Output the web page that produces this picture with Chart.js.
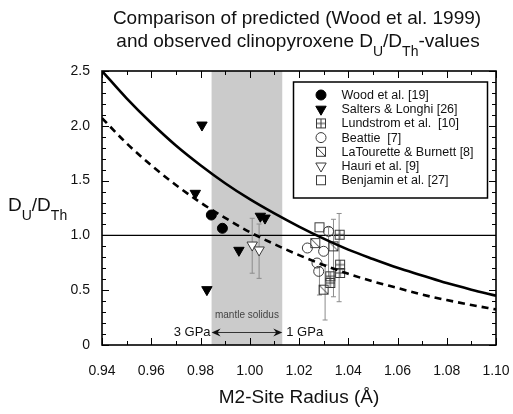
<!DOCTYPE html>
<html>
<head>
<meta charset="utf-8">
<script src="https://cdn.jsdelivr.net/npm/chart.js@4.4.1/dist/chart.umd.min.js"></script>
<style>
  html, body { margin: 0; padding: 0; background: #fff; }
  #wrap { width: 513px; height: 414px; position: relative; }
</style>
</head>
<body>
<div id="wrap"><canvas id="chart"></canvas></div>
<script>
// predicted curves
const radiusGrid = [0.94, 0.95, 0.96, 0.97, 0.98, 0.99, 1.00, 1.01, 1.02, 1.03, 1.04, 1.05, 1.06, 1.07, 1.08, 1.09, 1.10];
const predSolid  = [2.50, 2.25, 2.025, 1.82, 1.64, 1.476, 1.33, 1.20, 1.08, 0.97, 0.87, 0.785, 0.705, 0.635, 0.565, 0.505, 0.45];
const predDashed = [2.07, 1.84, 1.64, 1.46, 1.30, 1.16, 1.03, 0.92, 0.82, 0.73, 0.65, 0.58, 0.52, 0.46, 0.41, 0.365, 0.325];

// observed values
const woodX = [0.9844, 0.9889];
const woodY = [1.186, 1.065];
const saltersX = [0.9806, 0.9779, 0.9826, 0.9956, 1.0043, 1.0062];
const saltersY = [2.007, 1.384, 0.505, 0.864, 1.175, 1.158];
const lundstromX = [1.0365, 1.0367, 1.0367, 1.0327, 1.0327];
const lundstromY = [1.006, 0.733, 0.657, 0.627, 0.566];
const beattieX = [1.0320, 1.0234, 1.0300, 1.0273, 1.0280];
const beattieY = [1.037, 0.885, 0.855, 0.748, 0.672];
const latouretteX = [1.0266, 1.0340, 1.0300];
const latouretteY = [0.930, 0.900, 0.505];
const hauriX = [1.0010, 1.0038];
const hauriY = [0.912, 0.867];
const benjaminX = [1.0283];
const benjaminY = [1.074];

// error bars
const errX  = [1.0010, 1.0038, 1.0283, 1.0306, 1.0320, 1.0340, 1.0363];
const errLo = [0.655, 0.608, 0.456, 0.228, 0.620, 0.440, 0.395];
const errHi = [1.156, 1.104, 0.710, 0.730, 1.074, 1.147, 1.200];

const xTicks = [0.94, 0.96, 0.98, 1.00, 1.02, 1.04, 1.06, 1.08, 1.10];
const yTicks = [0, 0.5, 1.0, 1.5, 2.0, 2.5];
const solidusBand = [0.9845, 1.0132];

const FONT = "'Liberation Sans', Arial, Helvetica, sans-serif";
const SYM = '#3a3a3a';

function pts(xs, ys) {
    return xs.map((x, i) => ({ x: x, y: ys[i] }));
}

function makeSymbol(kind) {
    const c = document.createElement('canvas');
    c.width = 12; c.height = 12;
    const g = c.getContext('2d');
    g.strokeStyle = SYM;
    g.lineWidth = 1;
    g.strokeRect(1.5, 1.5, 9, 9);
    g.beginPath();
    if (kind === 'plus') {
        g.moveTo(6, 1.5); g.lineTo(6, 10.5);
        g.moveTo(1.5, 6); g.lineTo(10.5, 6);
    } else if (kind === 'diag') {
        g.moveTo(1.5, 1.5); g.lineTo(10.5, 10.5);
    }
    g.stroke();
    return c;
}
const squarePlus = makeSymbol('plus');
const squareDiag = makeSymbol('diag');
const squareOpen = makeSymbol('open');

const errData = [];
errX.forEach((x, i) => {
    errData.push({ x: x, y: errLo[i] }, { x: x, y: errHi[i] }, { x: x, y: null });
});

const series = [
    { label: 'Wood et al. [19]', data: pts(woodX, woodY), pointStyle: 'circle', pointRadius: 5,
      backgroundColor: '#000', borderColor: '#000', pointBorderWidth: 1 },
    { label: 'Salters & Longhi [26]', data: pts(saltersX, saltersY), pointStyle: 'triangle', rotation: 180, pointRadius: 6,
      backgroundColor: '#000', borderColor: '#000', pointBorderWidth: 1 },
    { label: 'Lundstrom et al.  [10]', data: pts(lundstromX, lundstromY), pointStyle: squarePlus, pointRadius: 6,
      backgroundColor: 'rgba(0,0,0,0)', borderColor: SYM },
    { label: 'Beattie  [7]', data: pts(beattieX, beattieY), pointStyle: 'circle', pointRadius: 5,
      backgroundColor: 'rgba(255,255,255,0)', borderColor: SYM, pointBorderWidth: 1 },
    { label: 'LaTourette & Burnett [8]', data: pts(latouretteX, latouretteY), pointStyle: squareDiag, pointRadius: 6,
      backgroundColor: 'rgba(0,0,0,0)', borderColor: SYM },
    { label: 'Hauri et al. [9]', data: pts(hauriX, hauriY), pointStyle: 'triangle', rotation: 180, pointRadius: 6,
      backgroundColor: '#fff', borderColor: SYM, pointBorderWidth: 1 },
    { label: 'Benjamin et al. [27]', data: pts(benjaminX, benjaminY), pointStyle: squareOpen, pointRadius: 6,
      backgroundColor: 'rgba(0,0,0,0)', borderColor: SYM }
];

const datasets = [
    { type: 'line', data: pts(radiusGrid, predSolid), borderColor: '#000', borderWidth: 2.6,
      pointRadius: 0, cubicInterpolationMode: 'monotone', order: 0 },
    { type: 'line', data: pts(radiusGrid, predDashed), borderColor: '#000', borderWidth: 2.6, borderDash: [7, 5],
      pointRadius: 0, cubicInterpolationMode: 'monotone', order: 0 }
];
series.forEach(s => datasets.push(Object.assign({ type: 'scatter', order: 1 }, s)));
datasets.push({ type: 'line', data: errData, borderColor: '#8c8c8c', borderWidth: 1, spanGaps: false,
    pointStyle: 'line', pointRadius: 2.5, pointBorderColor: '#8c8c8c', pointBorderWidth: 1, order: 2 });
datasets.push({ type: 'line', data: [{ x: 0.94, y: 1 }, { x: 1.10, y: 1 }], borderColor: '#000', borderWidth: 1.2,
    pointRadius: 0, order: 3 });

// draws a string with subscript parts
function drawParts(ctx, parts, x, y, size, subSize, align) {
    let total = 0;
    parts.forEach(p => {
        ctx.font = (p.sub ? subSize : size) + 'px ' + FONT;
        p.w = ctx.measureText(p.t).width;
        total += p.w;
    });
    let cx = align === 'center' ? x - total / 2 : x;
    ctx.textAlign = 'left';
    ctx.textBaseline = 'alphabetic';
    parts.forEach(p => {
        ctx.font = (p.sub ? subSize : size) + 'px ' + FONT;
        ctx.fillText(p.t, cx, p.sub ? y + size * 0.47 : y);
        cx += p.w;
    });
}

const decorPlugin = {
    id: 'decor',
    beforeDatasetsDraw(chart) {
        const { ctx, chartArea: a, scales: { x } } = chart;
        ctx.save();
        ctx.fillStyle = '#cbcbcb';
        const x0 = x.getPixelForValue(solidusBand[0]);
        const x1 = x.getPixelForValue(solidusBand[1]);
        ctx.fillRect(x0, a.top, x1 - x0, a.bottom - a.top);
        ctx.restore();
    },
    afterDatasetsDraw(chart) {
        const { ctx, chartArea: a, scales: { x, y } } = chart;
        ctx.save();
        // inward tick marks on all four sides
        ctx.strokeStyle = '#000';
        ctx.lineWidth = 1;
        ctx.beginPath();
        for (let i = 0; i <= 16; i++) {
            const v = 0.94 + i * 0.01;
            const px = Math.round(x.getPixelForValue(v)) + 0.5;
            const len = i % 2 === 0 ? 7 : 4;
            ctx.moveTo(px, a.bottom); ctx.lineTo(px, a.bottom - len);
            ctx.moveTo(px, a.top); ctx.lineTo(px, a.top + len);
        }
        for (let i = 0; i <= 25; i++) {
            const py = Math.round(y.getPixelForValue(i * 0.1)) + 0.5;
            const len = i % 5 === 0 ? 7 : 4;
            ctx.moveTo(a.left, py); ctx.lineTo(a.left + len, py);
            ctx.moveTo(a.right, py); ctx.lineTo(a.right - len, py);
        }
        ctx.stroke();
        // frame
        ctx.lineWidth = 1.6;
        ctx.strokeRect(a.left, a.top, a.right - a.left, a.bottom - a.top);

        // mantle solidus annotation
        const bx0 = x.getPixelForValue(solidusBand[0]);
        const bx1 = x.getPixelForValue(solidusBand[1]);
        ctx.fillStyle = '#444';
        ctx.font = '10px ' + FONT;
        ctx.textAlign = 'center';
        ctx.textBaseline = 'middle';
        ctx.fillText('mantle solidus', (bx0 + bx1) / 2, y.getPixelForValue(0.27));
        const ay = Math.round(y.getPixelForValue(0.116)) + 0.5;
        ctx.strokeStyle = '#333';
        ctx.lineWidth = 1;
        ctx.beginPath();
        ctx.moveTo(bx0 + 3, ay); ctx.lineTo(bx1 - 3, ay);
        ctx.stroke();
        ctx.fillStyle = '#111';
        [[bx0, 1], [bx1, -1]].forEach(([tx, d]) => {
            ctx.beginPath();
            ctx.moveTo(tx, ay);
            ctx.lineTo(tx + d * 9, ay - 4);
            ctx.lineTo(tx + d * 6, ay);
            ctx.lineTo(tx + d * 9, ay + 4);
            ctx.closePath();
            ctx.fill();
        });
        ctx.font = '13px ' + FONT;
        ctx.textAlign = 'right';
        ctx.fillText('3 GPa', bx0 - 1, ay);
        ctx.textAlign = 'left';
        ctx.fillText('1 GPa', bx1 + 4, ay);
        ctx.restore();
    },
    afterDraw(chart) {
        const ctx = chart.ctx;
        ctx.save();
        ctx.fillStyle = '#111';
        // title
        ctx.font = '19px ' + FONT;
        ctx.textAlign = 'center';
        ctx.textBaseline = 'alphabetic';
        ctx.fillText('Comparison of predicted (Wood et al. 1999)', 297, 24);
        drawParts(ctx, [
            { t: 'and observed clinopyroxene D' }, { t: 'U', sub: true },
            { t: '/D' }, { t: 'Th', sub: true }, { t: '-values' }
        ], 298, 47, 19, 14, 'center');
        // y axis title
        drawParts(ctx, [
            { t: 'D' }, { t: 'U', sub: true }, { t: '/D' }, { t: 'Th', sub: true }
        ], 8, 211, 19, 14, 'left');

        // legend box
        const lx = 293.5, ly = 82, lw = 194, lh = 116;
        ctx.fillStyle = '#fff';
        ctx.fillRect(lx, ly, lw, lh);
        ctx.strokeStyle = '#000';
        ctx.lineWidth = 1.5;
        ctx.strokeRect(lx, ly, lw, lh);
        series.forEach((s, i) => {
            const cy = 95 + i * 14.2;
            ctx.fillStyle = s.backgroundColor;
            ctx.strokeStyle = s.borderColor;
            ctx.lineWidth = 1;
            Chart.helpers.drawPoint(ctx, {
                pointStyle: s.pointStyle, rotation: s.rotation || 0,
                radius: s.pointRadius, borderWidth: 1
            }, 321, cy);
            ctx.fillStyle = '#111';
            ctx.font = '12.5px ' + FONT;
            ctx.textAlign = 'left';
            ctx.textBaseline = 'middle';
            ctx.fillText(s.label, 341.5, cy + 0.5);
        });
        ctx.restore();
    }
};

new Chart(document.getElementById('chart'), {
    type: 'scatter',
    data: { datasets: datasets },
    options: {
        responsive: true,
        maintainAspectRatio: false,
        animation: false,
        layout: { padding: { left: 0, top: 71, right: 17, bottom: 0 } },
        plugins: { legend: { display: false }, tooltip: { enabled: false } },
        scales: {
            x: {
                type: 'linear', min: 0.94, max: 1.10,
                afterBuildTicks: s => { s.ticks = xTicks.map(v => ({ value: v })); },
                afterFit: s => { s.height = 69; s.paddingLeft = 0; s.paddingRight = 0; },
                grid: { display: false, drawTicks: false },
                border: { display: false },
                ticks: { callback: v => v.toFixed(2), padding: 18, maxRotation: 0, autoSkip: false,
                         color: '#111', font: { size: 14, family: FONT } },
                title: { display: true, text: 'M2-Site Radius (Å)', color: '#111',
                         font: { size: 19, family: FONT }, padding: { top: 0, bottom: 5 } }
            },
            y: {
                type: 'linear', min: 0, max: 2.5,
                afterBuildTicks: s => { s.ticks = yTicks.map(v => ({ value: v })); },
                afterFit: s => { s.width = 102; s.paddingTop = 0; s.paddingBottom = 0; },
                grid: { display: false, drawTicks: false },
                border: { display: false },
                ticks: { callback: v => v === 0 ? '0' : v.toFixed(1), padding: 12,
                         color: '#111', font: { size: 14, family: FONT } }
            }
        }
    },
    plugins: [decorPlugin]
});
</script>
</body>
</html>
